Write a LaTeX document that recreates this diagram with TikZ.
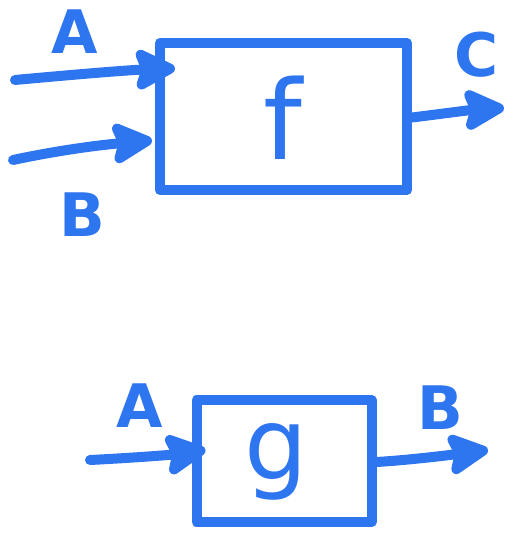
\documentclass[tikz,border=0pt]{standalone}
\usepackage{fontspec}
\setmainfont{DejaVu Sans}
\usetikzlibrary{arrows.meta}
\definecolor{pen}{RGB}{46,117,240}
\tikzset{
  ink/.style={draw=pen, line width=10pt, line cap=round, line join=round},
  boxnode/.style={ink, inner sep=0pt},
  arr/.style={ink, -{Stealth[length=48pt,width=48pt,inset=8pt,round]}},
  lbl/.style={text=pen, inner sep=0pt, font=\bfseries\fontsize{60}{60}\selectfont}
}
\begin{document}
\begin{tikzpicture}[x=1pt,y=-1pt]
\useasboundingbox (0,0) rectangle (516,535);
% box f
\node[boxnode, minimum width=247pt, minimum height=147pt] (f) at (283.5,116.5) {};
\node[text=pen, font=\fontsize{110}{110}\selectfont, inner sep=0pt] (flab) at (283,118) {f};
% box g
\node[boxnode, minimum width=175pt, minimum height=122pt] (g) at (284,461) {};
\node[text=pen, font=\fontsize{100}{100}\selectfont, inner sep=0pt] (glab) at (276,462) {g};
% tails
\coordinate (ta) at (15,80);
\coordinate (tb) at (13,160);
\coordinate (hc) at (504,108);
\coordinate (tga) at (90,460);
\coordinate (hgb) at (488,450);
% arrows into f
\draw[arr] (ta) .. controls (80,74) and (130,70) .. ([xshift=20pt,yshift=48pt]f.west);
\draw[arr] (tb) .. controls (60,150) and (100,145) .. ([xshift=-3pt,yshift=-24pt]f.west);
\draw[arr] ([yshift=-1pt]f.east) .. controls (440,114) and (470,110) .. (hc);
% arrows g
\draw[arr] (tga) .. controls (130,458) and (170,455) .. ([xshift=14pt,yshift=11pt]g.west);
\draw[arr] ([yshift=-1pt]g.east) .. controls (410,460) and (450,455) .. (hgb);
% labels
\node[lbl] (la) at (75,32) {A};
\node[lbl] (lb) at (82,215) {B};
\node[lbl] (lc) at (477,55) {C};
\node[lbl] (lga) at (140,406) {A};
\node[lbl] (lgb) at (440,408) {B};
\end{tikzpicture}
\end{document}
